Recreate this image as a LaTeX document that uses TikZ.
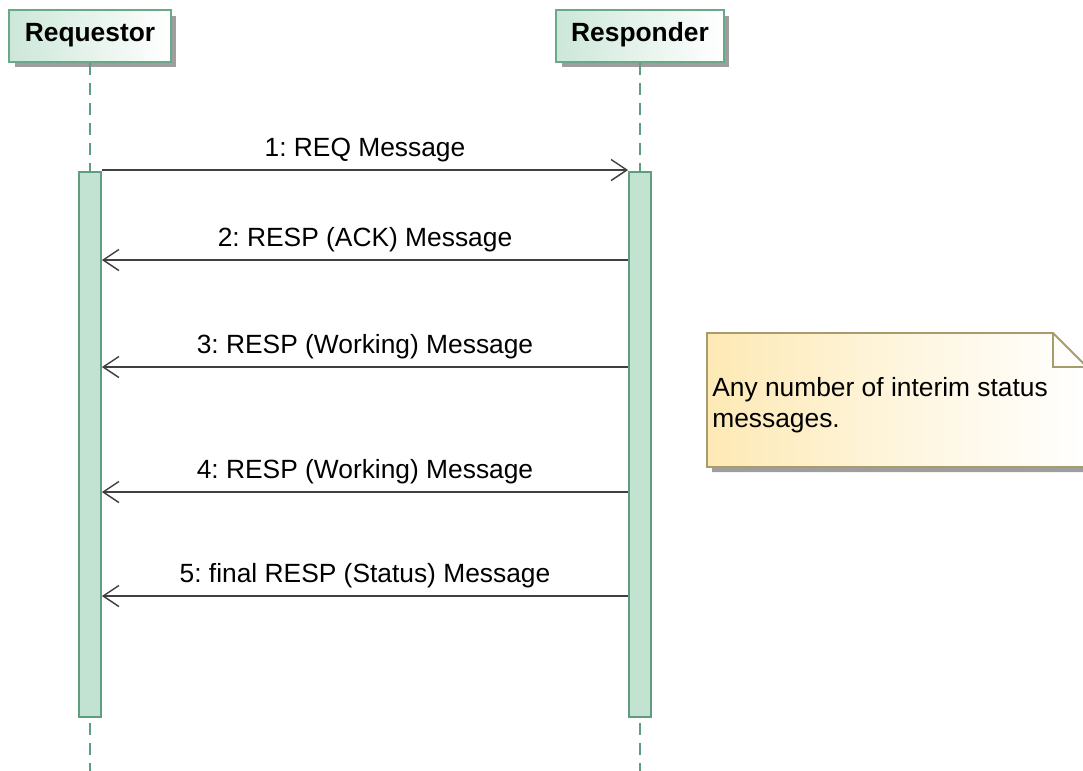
\documentclass[tikz,border=0pt]{standalone}
\usepackage{fontspec}
\setmainfont{Liberation Sans}
\usetikzlibrary{arrows,arrows.meta,shadows}
\usetikzlibrary{positioning}
\frenchspacing
\definecolor{boxline}{HTML}{6AA88A}
\definecolor{boxfill}{HTML}{CCE7D9}
\definecolor{barline}{HTML}{5E9E7F}
\definecolor{barfill}{HTML}{C3E3D2}
\definecolor{noteline}{HTML}{A89B6C}
\definecolor{notefill}{HTML}{FDE9B4}
\definecolor{msgline}{HTML}{404040}
\tikzset{
    actor/.style={
           rectangle,
           draw=boxline, line width=1.1pt,
           left color=boxfill, right color=white,
           minimum height=1.04cm,
           text depth=0.8ex,
           font=\bfseries\fontsize{15}{18}\selectfont,
           drop shadow={shadow xshift=0.11cm, shadow yshift=-0.11cm, fill=black!38, opacity=1},
           },
}
\tikzset{
    bar/.style={
           rectangle,
           draw=barline, line width=1pt,
           fill=barfill,
           inner sep=0pt,
           minimum width=0.44cm,
           minimum height=10.9cm,
           },
}
\tikzset{
    lifeline/.style={
           draw=barline, line width=1pt,
           dash pattern=on 0.24cm off 0.16cm,
           },
    msg/.style={
           draw=msgline, line width=0.8pt,
           -{Straight Barb[length=9pt,width=12pt,line width=0.8pt]},
           },
    msglabel/.style={
           midway, above=4pt, inner sep=0pt,
           font=\fontsize{15}{18}\selectfont,
           },
}

\begin{document}
\begin{tikzpicture}[x=0.02cm,y=-0.02cm]
\useasboundingbox (0,0) rectangle (1083,771);
% participants
\node[actor,minimum width=3.24cm](req) at (90,36){Requestor};
\node[actor,minimum width=3.36cm](res) at (640,36){Responder};
\coordinate (bottom) at (0,771);
\draw[lifeline] (req.south) -- (req.south |- bottom);
\draw[lifeline] (res.south) -- (res.south |- bottom);
% activations
\node[bar,below=2.16cm of req](reqbar){};
\node[bar,below=2.16cm of res](resbar){};
% note
\fill[black!38] (712,338) -- (1058,338) -- (1092,372) -- (1092,472) -- (712,472) -- cycle;
\draw[noteline,line width=1.1pt,left color=notefill,right color=white,middle color=notefill!45] (707,333) -- (1053,333) -- (1087,367) -- (1087,467) -- (707,467) -- cycle;
\draw[noteline,line width=1.1pt] (1053,333) -- (1053,367) -- (1087,367);
\node[anchor=west,align=left,inner sep=0pt,font=\fontsize{15}{17.6}\selectfont](notetxt) at (712,405){Any number of interim status\\messages.};
% messages
\coordinate (m1) at (0,170);
\coordinate (m2) at (0,260);
\coordinate (m3) at (0,367);
\coordinate (m4) at (0,492);
\coordinate (m5) at (0,596);
\draw[msg] (reqbar.east |- m1) -- node[msglabel]{1: REQ Message} (resbar.west |- m1);
\draw[msg] (resbar.west |- m2) -- node[msglabel]{2: RESP (ACK) Message} (reqbar.east |- m2);
\draw[msg] (resbar.west |- m3) -- node[msglabel]{3: RESP (Working) Message} (reqbar.east |- m3);
\draw[msg] (resbar.west |- m4) -- node[msglabel]{4: RESP (Working) Message} (reqbar.east |- m4);
\draw[msg] (resbar.west |- m5) -- node[msglabel]{5: final RESP (Status) Message} (reqbar.east |- m5);
\end{tikzpicture}
\end{document}
